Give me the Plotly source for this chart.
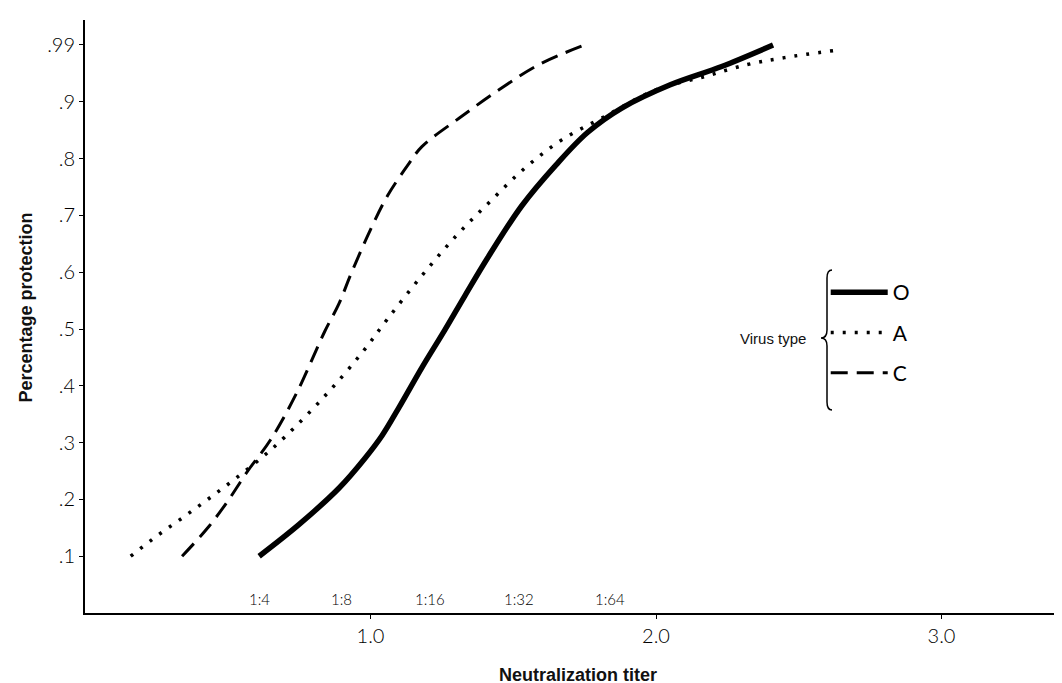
import numpy as np
import plotly.graph_objects as go

# ---- data ----
y_tick_vals = [0.1, 0.2, 0.3, 0.4, 0.5, 0.6, 0.7, 0.8, 0.9, 0.99]
y_tick_text = [".1", ".2", ".3", ".4", ".5", ".6", ".7", ".8", ".9", ".99"]
y_tick_pos = [1, 2, 3, 4, 5, 6, 7, 8, 9, 10]   # equally spaced steps on the printed scale

x_tick_vals = [1.0, 2.0, 3.0]
x_tick_text = ["1.0", "2.0", "3.0"]

titer_labels = ["1:4", "1:8", "1:16", "1:32", "1:64"]
titer_x = [0.61, 0.90, 1.21, 1.52, 1.84]

o_x = [0.61, 0.75, 0.89, 0.98, 1.04, 1.10, 1.18, 1.26, 1.33, 1.41, 1.53, 1.65, 1.76, 1.88, 2.05, 2.23, 2.41]
o_p = [0.10, 0.156, 0.22, 0.272, 0.312, 0.362, 0.432, 0.498, 0.558, 0.625, 0.717, 0.789, 0.846, 0.889, 0.927, 0.956, 0.99]

a_x = [0.16, 0.25, 0.34, 0.43, 0.52, 0.62, 0.70, 0.84, 0.97, 1.06, 1.18, 1.30, 1.42, 1.54, 1.67, 1.82, 2.00, 2.17, 2.32, 2.45, 2.62]
a_p = [0.10, 0.135, 0.167, 0.20, 0.234, 0.274, 0.310, 0.382, 0.458, 0.518, 0.594, 0.664, 0.725, 0.783, 0.833, 0.874, 0.919, 0.940, 0.959, 0.970, 0.981]

c_x = [0.34, 0.43, 0.50, 0.57, 0.65, 0.74, 0.84, 0.89, 0.93, 1.00, 1.06, 1.13, 1.18, 1.31, 1.45, 1.59, 1.75]
c_p = [0.10, 0.15, 0.197, 0.25, 0.305, 0.386, 0.496, 0.545, 0.595, 0.675, 0.735, 0.788, 0.821, 0.871, 0.919, 0.959, 0.99]

series_names = ["O", "A", "C"]


def to_scale(p):
    """Map protection values onto the chart's printed (equally spaced) probability scale."""
    return np.interp(p, y_tick_vals, y_tick_pos)


tick_font = dict(family="Lato, DejaVu Sans, sans-serif", size=20, color="#000", weight=300)
title_family = "Liberation Sans, Arial, sans-serif"

fig = go.Figure()
fig.add_trace(go.Scatter(
    x=o_x, y=to_scale(o_p), mode="lines", name=series_names[0], legendgroup="o",
    line=dict(color="black", width=5.5, shape="spline", smoothing=1.0)))
fig.add_trace(go.Scatter(
    x=a_x, y=to_scale(a_p), mode="lines", name=series_names[1], legendgroup="a",
    line=dict(color="black", width=3.5, dash="3px,9px", shape="spline", smoothing=1.0)))
fig.add_trace(go.Scatter(
    x=c_x, y=to_scale(c_p), mode="lines", name=series_names[2], legendgroup="c",
    line=dict(color="black", width=3, dash="17px,9px", shape="spline", smoothing=1.0)))

annotations = []
for lab, xv in zip(titer_labels, titer_x):
    annotations.append(dict(x=xv, y=0, xref="x", yref="y", text=lab, showarrow=False,
                            yanchor="bottom", yshift=3,
                            font=dict(family="Lato, DejaVu Sans, sans-serif", size=15, color="#000", weight=300)))

# axis titles
annotations.append(dict(x=0.50, y=-0.105, xref="paper", yref="paper", text="Neutralization titer",
                        showarrow=False, xanchor="center", yanchor="middle",
                        font=dict(family=title_family, size=18, color="#111", weight="bold")))
annotations.append(dict(x=-0.060, y=0.515, xref="paper", yref="paper", text="Percentage protection",
                        showarrow=False, xanchor="center", yanchor="middle", textangle=-90,
                        font=dict(family=title_family, size=18, color="#111", weight="bold")))

annotations.append(dict(x=0.734, y=0.4637, xref="paper", yref="paper", text="Virus type",
                        showarrow=False, xanchor="right", yanchor="middle",
                        font=dict(family=title_family, size=15, color="#111")))

bracket = ("M 0.7584,0.5784 Q 0.7533,0.5784 0.7533,0.5649 L 0.7533,0.4772 "
           "Q 0.7533,0.4637 0.7472,0.4637 Q 0.7533,0.4637 0.7533,0.4503 "
           "L 0.7533,0.3558 Q 0.7533,0.3423 0.7584,0.3423")

fig.update_layout(
    width=1062, height=683,
    margin=dict(l=77, r=0, t=12, b=78),
    paper_bgcolor="white", plot_bgcolor="white",
    showlegend=True,
    legend=dict(x=0.752, y=0.575, xanchor="left", yanchor="top",
                bgcolor="rgba(0,0,0,0)", tracegroupgap=10, itemwidth=57,
                font=dict(family="Lato, DejaVu Sans, sans-serif", size=21, color="#000")),
    xaxis=dict(range=[0, 3.45], showgrid=False, zeroline=False,
               showline=True, linecolor="black", linewidth=2,
               ticks="outside", ticklen=4, tickcolor="black", tickwidth=1,
               tickvals=x_tick_vals, ticktext=x_tick_text, tickfont=tick_font),
    yaxis=dict(range=[0, 10.44], showgrid=False, zeroline=False,
               showline=True, linecolor="black", linewidth=2,
               ticks="outside", ticklen=4, tickcolor="black", tickwidth=1,
               tickvals=y_tick_pos, ticktext=y_tick_text, tickfont=tick_font),
    annotations=annotations,
    shapes=[dict(type="path", xref="paper", yref="paper", path=bracket,
                 line=dict(color="black", width=1.5))],
)

fig.write_html("out.html")
